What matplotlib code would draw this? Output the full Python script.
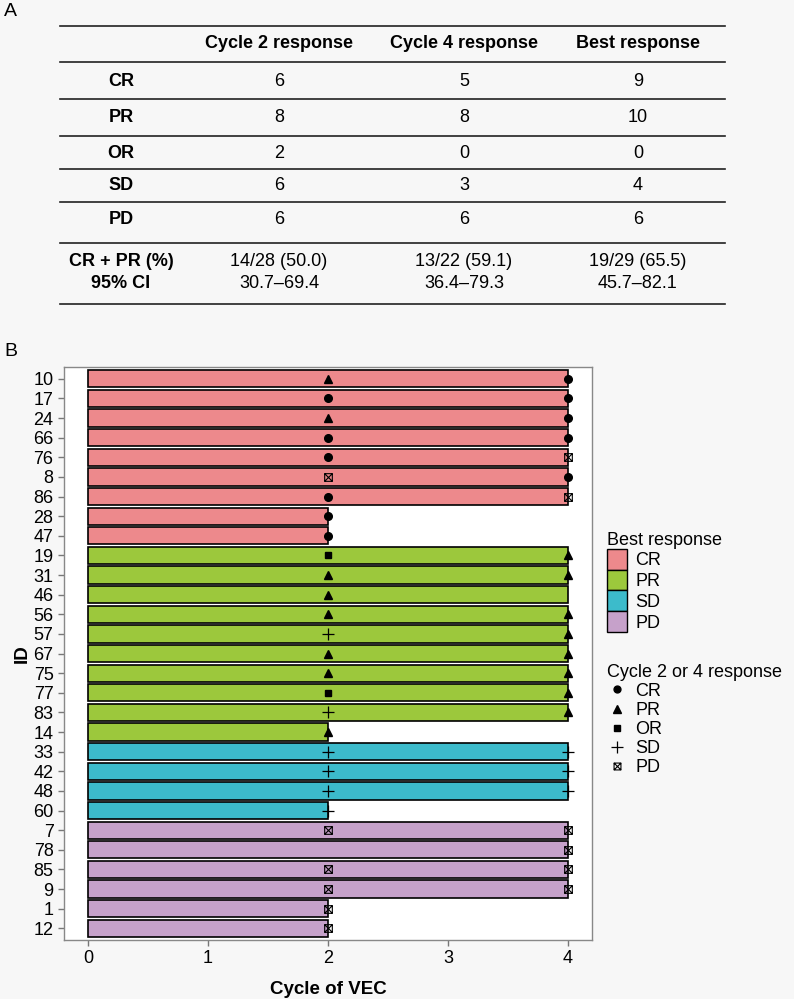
import numpy as np
import matplotlib.pyplot as plt
from matplotlib.patches import Patch
from matplotlib.lines import Line2D
from matplotlib.path import Path

# ---- table A data ----
col_headers = ['Cycle 2 response', 'Cycle 4 response', 'Best response']
row_labels = ['CR', 'PR', 'OR', 'SD', 'PD']
cycle2_counts = ['6', '8', '2', '6', '6']
cycle4_counts = ['5', '8', '0', '3', '6']
best_counts = ['9', '10', '0', '4', '6']
rate_text = ['14/28 (50.0)', '13/22 (59.1)', '19/29 (65.5)']
ci_text = ['30.7\u201369.4', '36.4\u201379.3', '45.7\u201382.1']

# ---- panel B data ----
ids = ['10', '17', '24', '66', '76', '8', '86', '28', '47', '19', '31', '46', '56', '57',
       '67', '75', '77', '83', '14', '33', '42', '48', '60', '7', '78', '85', '9', '1', '12']
best = ['CR'] * 9 + ['PR'] * 10 + ['SD'] * 4 + ['PD'] * 6
cycles = [4, 4, 4, 4, 4, 4, 4, 2, 2, 4, 4, 4, 4, 4, 4, 4, 4, 4, 2, 4, 4, 4, 2, 4, 4, 4, 4, 2, 2]
resp_c2 = ['PR', 'CR', 'PR', 'CR', 'CR', 'PD', 'CR', 'CR', 'CR', 'OR', 'PR', 'PR', 'PR', 'SD',
           'PR', 'PR', 'OR', 'SD', 'PR', 'SD', 'SD', 'SD', 'SD', 'PD', None, 'PD', 'PD', 'PD', 'PD']
resp_c4 = ['CR', 'CR', 'CR', 'CR', 'PD', 'CR', 'PD', None, None, 'PR', 'PR', None, 'PR', 'PR',
           'PR', 'PR', 'PR', 'PR', None, 'SD', 'SD', 'SD', None, 'PD', 'PD', 'PD', 'PD', None, None]

best_colors = {'CR': '#ED898C', 'PR': '#9CC83C', 'SD': '#3CBBCB', 'PD': '#C6A1CA'}
resp_order = ['CR', 'PR', 'OR', 'SD', 'PD']

# square with a cross inside (ggplot shape 7)
sq_x = Path([(-1, -1), (1, -1), (1, 1), (-1, 1), (-1, -1), (-1, -1), (1, 1), (-1, 1), (1, -1)],
            [Path.MOVETO, Path.LINETO, Path.LINETO, Path.LINETO, Path.CLOSEPOLY,
             Path.MOVETO, Path.LINETO, Path.MOVETO, Path.LINETO])

marker_style = {
    'CR': dict(marker='o', color='black', ms=5.5),
    'PR': dict(marker='^', color='black', ms=6),
    'OR': dict(marker='s', color='black', ms=5),
    'SD': dict(marker='+', color='black', ms=9, mew=0.9),
    'PD': dict(marker=sq_x, mfc='none', mec='black', ms=5.5, mew=0.8),
}

bg = '#f7f7f7'
fig = plt.figure(figsize=(7.94, 9.99), dpi=100, facecolor=bg)
plt.rcParams['font.family'] = ['Liberation Sans', 'DejaVu Sans']

# ---- table A (drawn in pixel coordinates) ----
tab = fig.add_axes([0, 0, 1, 1])
tab.set_xlim(0, 794)
tab.set_ylim(999, 0)
tab.axis('off')
tab.patch.set_alpha(0)

tab.text(4, 12, 'A', fontsize=14, va='center', ha='left')
tab.text(4, 351, 'B', fontsize=14, va='center', ha='left')

for yl in [26, 62, 99, 136, 169, 202, 243, 304]:
    tab.plot([60, 725], [yl, yl], color='#222222', lw=1.2)

fs_tab = 13
col_x = [121, 279, 464, 638]
for x, h in zip(col_x[1:], col_headers):
    tab.text(x, 44, h, ha='center', va='center', fontsize=fs_tab, fontweight='bold')
row_y = [81, 117, 153, 186, 220]
for i, r in enumerate(row_labels):
    tab.text(col_x[0], row_y[i], r, ha='center', va='center', fontsize=fs_tab, fontweight='bold')
    for x, vals in zip(col_x[1:], [cycle2_counts, cycle4_counts, best_counts]):
        tab.text(x, row_y[i], vals[i], ha='center', va='center', fontsize=fs_tab)
tab.text(col_x[0], 261, 'CR + PR (%)', ha='center', va='center', fontsize=fs_tab, fontweight='bold')
tab.text(col_x[0], 284, '95% CI', ha='center', va='center', fontsize=fs_tab, fontweight='bold')
for x, a, b in zip(col_x[1:], rate_text, ci_text):
    tab.text(x, 261, a, ha='center', va='center', fontsize=fs_tab)
    tab.text(x, 284, b, ha='center', va='center', fontsize=fs_tab)

# ---- panel B ----
ax = fig.add_axes([0.0806, 0.059, 0.665, 0.5736])
ax.set_facecolor('white')
n = len(ids)
ypos = np.arange(n)
ax.barh(ypos, cycles, height=0.88, color=[best_colors[b] for b in best],
        edgecolor='black', linewidth=1.2, zorder=2)

for i in range(n):
    for xc, r in [(2, resp_c2[i]), (4, resp_c4[i])]:
        if r is not None:
            ax.plot(xc, ypos[i], ls='none', zorder=4, **marker_style[r])

ax.set_xlim(-0.2, 4.2)
ax.set_ylim(n - 1 + 0.6, -0.6)
ax.set_yticks(ypos)
ax.set_yticklabels(ids)
ax.set_xticks([0, 1, 2, 3, 4])
ax.tick_params(axis='both', labelsize=13, color='#777777', length=4, width=1)
for s in ax.spines.values():
    s.set_color('#888888')
    s.set_linewidth(1)
ax.set_xlabel('Cycle of VEC', fontsize=13.5, fontweight='bold', labelpad=10)
ax.set_ylabel('ID', fontsize=13.5, fontweight='bold', labelpad=2)

# legends
h1 = [Patch(facecolor=best_colors[k], edgecolor='black', linewidth=1) for k in ['CR', 'PR', 'SD', 'PD']]
fig.legend(h1, ['CR', 'PR', 'SD', 'PD'], title='Best response', loc='upper left',
           bbox_to_anchor=(0.755, 0.475), frameon=False, fontsize=13, title_fontsize=13,
           alignment='left', handlelength=1.1, handleheight=1.4, handletextpad=0.5,
           labelspacing=0.0, borderaxespad=0)

h2 = []
for r in resp_order:
    st = dict(marker_style[r])
    st['ms'] = st['ms'] * 0.9
    h2.append(Line2D([], [], ls='none', **st))
fig.legend(h2, resp_order, title='Cycle 2 or 4 response', loc='upper left',
           bbox_to_anchor=(0.755, 0.343), frameon=False, fontsize=13, title_fontsize=13,
           alignment='left', handlelength=1.1, handletextpad=0.5,
           labelspacing=0.12, borderaxespad=0)

fig.savefig('out.png', dpi=100, facecolor=bg)
